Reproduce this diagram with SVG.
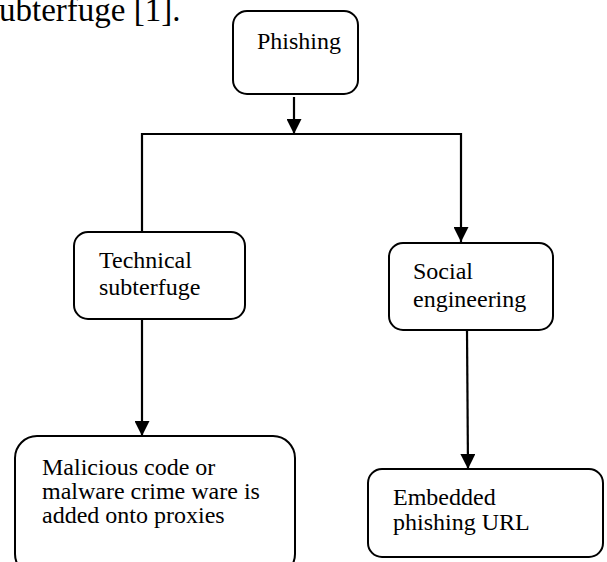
<svg xmlns="http://www.w3.org/2000/svg" width="607" height="562" viewBox="0 0 607 562">
<style>
.box{fill:#fff;stroke:#000;stroke-width:2}
.ln{fill:none;stroke:#000;stroke-width:2.2}
</style>
<defs>
<marker id="ah" viewBox="0 0 15 15" refX="15" refY="7.5" markerWidth="15" markerHeight="15" markerUnits="userSpaceOnUse" orient="auto">
<path d="M0,0 L15,7.5 L0,15 Z" fill="#000"/>
</marker>
</defs>
<g font-family="Liberation Serif, Times New Roman, serif" fill="#000">
<text x="-1" y="21" font-size="33">ubterfuge [1].</text>
</g>
<g id="connectors">
<path class="ln" d="M294,97 V134" marker-end="url(#ah)"/>
<path class="ln" d="M142,232 V134 H461 V242" marker-end="url(#ah)"/>
<path class="ln" d="M142,320 V436" marker-end="url(#ah)"/>
<path class="ln" d="M467,331 L468,469" marker-end="url(#ah)"/>
</g>
<g font-family="Liberation Serif, Times New Roman, serif" font-size="24" fill="#000">
<g id="phishing">
<rect class="box" x="233" y="11" width="125" height="83" rx="14"/>
<text x="257" y="49">Phishing</text>
</g>
<g id="technical">
<rect class="box" x="74" y="232" width="171" height="87" rx="14"/>
<text x="99" y="268">Technical</text>
<text x="99" y="295">subterfuge</text>
</g>
<g id="social">
<rect class="box" x="389" y="243" width="164" height="87" rx="14"/>
<text x="413" y="279">Social</text>
<text x="413" y="307">engineering</text>
</g>
<g id="malicious">
<rect class="box" x="15" y="436" width="280" height="140" rx="22"/>
<text x="42" y="475">Malicious code or</text>
<text x="42" y="499">malware crime ware is</text>
<text x="42" y="523">added onto proxies</text>
</g>
<g id="embedded">
<rect class="box" x="368" y="469" width="235" height="88" rx="14"/>
<text x="393" y="505">Embedded</text>
<text x="393" y="530">phishing URL</text>
</g>
</g>
</svg>
